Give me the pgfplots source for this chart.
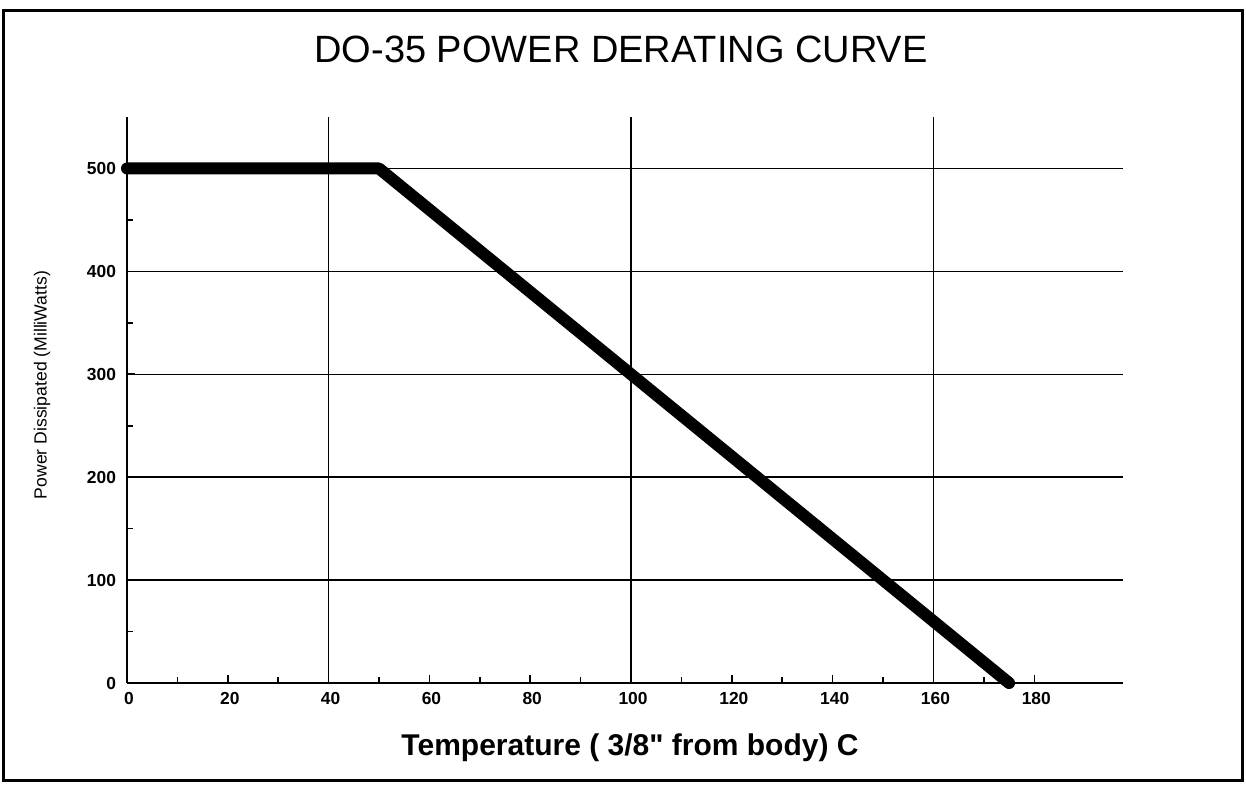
\documentclass[border=0pt]{standalone}
\usepackage{pgfplots}
\pgfplotsset{compat=1.18}
\usepackage{fontspec}
\setmainfont{Liberation Sans}
\begin{document}
\begin{tikzpicture}
\useasboundingbox (-63.5pt,-50.5pt) rectangle (559.5pt,341.5pt);
\begin{axis}[
  at={(0pt,0pt)}, anchor=south west,
  scale only axis, width=498pt, height=283pt,
  xmin=0, xmax=197.6, ymin=0, ymax=550,
  axis lines*=left,
  axis line style={line width=1pt},
  xtick={0,20,...,180}, ytick={0,100,...,500},
  minor x tick num=1, minor y tick num=1,
  tick align=inside,
  major tick length=4pt, minor tick length=3pt,
  tick style={black, line width=0.8pt},
  ymajorgrids=true,
  grid style={black, line width=0.7pt},
  extra x ticks={40,100,160},
  extra x tick labels={},
  extra x tick style={grid=major, major tick length=0pt},
  /pgf/number format/assume math mode=true,
  ticklabel style={font=\bfseries\fontsize{8.7}{10}\selectfont},
  yticklabel style={xshift=-2pt},
  xticklabel style={yshift=-1pt, xshift=1pt},
  clip=false,
]
\addplot[black, line width=6pt, line join=round, line cap=round] coordinates {(0,500) (50,500) (175,0)};
\end{axis}
\node[anchor=base, font=\fontsize{19}{22}\selectfont] at (247pt,310.5pt) {DO-35 POWER DERATING CURVE};
\node[anchor=base, font=\bfseries\fontsize{15}{18}\selectfont] at (251.5pt,-36pt) {Temperature ( 3/8\textquotedbl{} from body) C};
\node[rotate=90, anchor=center, font=\fontsize{8.8}{10}\selectfont] at (-42.5pt,149pt) {Power Dissipated (MilliWatts)};
\draw[line width=1.5pt] (-61.5pt,-48.5pt) rectangle (557.5pt,336.5pt);
\end{tikzpicture}
\end{document}
